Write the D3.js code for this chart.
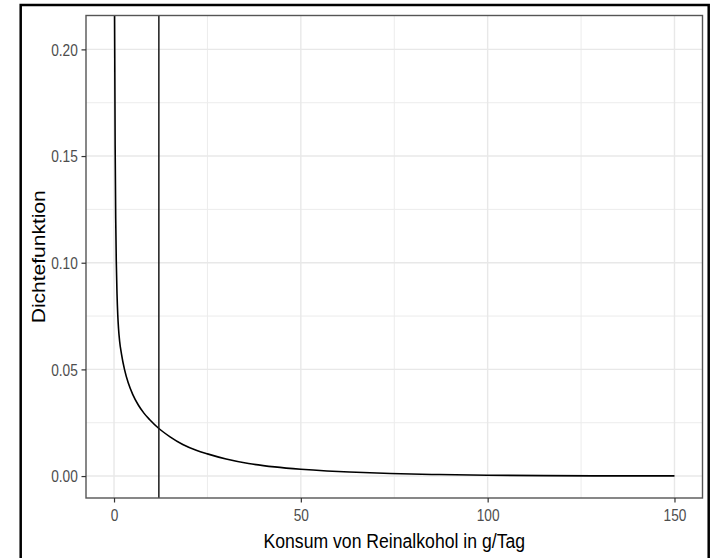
<!DOCTYPE html>
<html>
<head>
<meta charset="utf-8">
<script src="https://cdn.jsdelivr.net/npm/d3@7"></script>
<style>
  body { margin: 0; background: #fff; }
  svg { display: block; font-family: "Liberation Sans", Arial, sans-serif; }
</style>
</head>
<body>
<div id="chart"></div>
<script>
// values
const consumption = [0.15, 0.3, 0.45, 0.6, 0.8, 1.0, 1.2, 1.5, 2.0, 2.8, 3.8, 5.0, 6.5, 8.0, 9.5, 12, 15, 18.4, 22, 25, 30, 36, 43, 50, 57, 63, 74, 87, 100, 115, 130, 150];
const density = [0.216, 0.155, 0.121, 0.101, 0.0855, 0.0756, 0.0693, 0.0632, 0.0572, 0.05, 0.0437, 0.0383, 0.0333, 0.0295, 0.0265, 0.0223, 0.0184, 0.0148, 0.0121, 0.0104, 0.008, 0.0059, 0.0043, 0.0032, 0.0024, 0.0019, 0.0012, 0.0007, 0.0004, 0.0002, 0.0001, 0.0001];
const threshold = [12];
const xTicks = [0, 50, 100, 150];
const xMinor = [25, 75, 125];
const yTicks = [0, 0.05, 0.1, 0.15, 0.2];
const yMinor = [0.025, 0.075, 0.125, 0.175];
const xLimits = [0, 150];
const yLimits = [0, 0.2056];

const W = 712, H = 558;
const panel = { left: 86, right: 702.5, top: 15.5, bottom: 498 };
const squeeze = 0.84; // the picture's text is narrow

const expand = (lim) => {
  const d = (lim[1] - lim[0]) * 0.05;
  return [lim[0] - d, lim[1] + d];
};

const svg = d3.select("#chart").append("svg").attr("width", W).attr("height", H);

const x = d3.scaleLinear().domain(expand(xLimits)).range([panel.left, panel.right]);
const y = d3.scaleLinear().domain(expand(yLimits)).range([panel.bottom, panel.top]);

// grid
const grid = svg.append("g");
grid.selectAll(".xmin").data(xMinor).join("line")
  .attr("x1", (d) => x(d)).attr("x2", (d) => x(d))
  .attr("y1", panel.top).attr("y2", panel.bottom)
  .attr("stroke", "#ececec").attr("stroke-width", 1);
grid.selectAll(".ymin").data(yMinor).join("line")
  .attr("y1", (d) => y(d)).attr("y2", (d) => y(d))
  .attr("x1", panel.left).attr("x2", panel.right)
  .attr("stroke", "#ececec").attr("stroke-width", 1);
grid.selectAll(".xmaj").data(xTicks).join("line")
  .attr("x1", (d) => x(d)).attr("x2", (d) => x(d))
  .attr("y1", panel.top).attr("y2", panel.bottom)
  .attr("stroke", "#e8e8e8").attr("stroke-width", 1.4);
grid.selectAll(".ymaj").data(yTicks).join("line")
  .attr("y1", (d) => y(d)).attr("y2", (d) => y(d))
  .attr("x1", panel.left).attr("x2", panel.right)
  .attr("stroke", "#e8e8e8").attr("stroke-width", 1.4);

// clip to panel
svg.append("clipPath").attr("id", "clip").append("rect")
  .attr("x", panel.left).attr("y", panel.top)
  .attr("width", panel.right - panel.left).attr("height", panel.bottom - panel.top);

const pts = consumption.map((c, i) => [c, density[i]]);
const line = d3.line().x((d) => x(d[0])).y((d) => y(d[1])).curve(d3.curveMonotoneX);

svg.append("path").datum(pts)
  .attr("clip-path", "url(#clip)")
  .attr("fill", "none").attr("stroke", "#000").attr("stroke-width", 1.6)
  .attr("d", line);

// vertical line
svg.selectAll(".vline").data(threshold).join("line")
  .attr("x1", (d) => x(d)).attr("x2", (d) => x(d))
  .attr("y1", panel.top).attr("y2", panel.bottom)
  .attr("stroke", "#1a1a1a").attr("stroke-width", 1.5);

// panel border
svg.append("rect")
  .attr("x", panel.left).attr("y", panel.top)
  .attr("width", panel.right - panel.left).attr("height", panel.bottom - panel.top)
  .attr("fill", "none").attr("stroke", "#555").attr("stroke-width", 1.4);

// axes
const xAxis = svg.append("g")
  .attr("transform", `translate(0,${panel.bottom})`)
  .call(d3.axisBottom(x).tickValues(xTicks).tickSize(4.5).tickFormat(d3.format("d")));
const yAxis = svg.append("g")
  .attr("transform", `translate(${panel.left},0)`)
  .call(d3.axisLeft(y).tickValues(yTicks).tickSize(4.5).tickFormat(d3.format(".2f")));

[xAxis, yAxis].forEach((g) => {
  g.select(".domain").remove();
  g.selectAll(".tick line").attr("stroke", "#333").attr("stroke-width", 1.2);
  g.selectAll("text")
    .attr("fill", "#4d4d4d")
    .style("font-size", "16.3px")
    .style("font-family", '"Liberation Sans", Arial, sans-serif');
});
xAxis.selectAll("text").attr("y", 23.5).attr("dy", 0)
  .attr("transform", `scale(${squeeze},1)`);
yAxis.selectAll("text").attr("x", -8.2 / squeeze).attr("dy", 5.8)
  .attr("transform", `scale(${squeeze},1)`);

// axis titles
svg.append("text")
  .attr("transform", `translate(${(panel.left + panel.right) / 2},548) scale(${squeeze},1)`)
  .attr("text-anchor", "middle")
  .attr("fill", "#000")
  .style("font-size", "21px")
  .text("Konsum von Reinalkohol in g/Tag");

svg.append("text")
  .attr("transform", `translate(45,${(panel.top + panel.bottom) / 2}) rotate(-90) scale(1,${squeeze})`)
  .attr("text-anchor", "middle")
  .attr("fill", "#000")
  .style("font-size", "21px")
  .text("Dichtefunktion");

// outer frame
svg.append("rect")
  .attr("x", 20.7).attr("y", 5)
  .attr("width", 688).attr("height", 600)
  .attr("fill", "none").attr("stroke", "#000").attr("stroke-width", 2.5);
</script>
</body>
</html>
